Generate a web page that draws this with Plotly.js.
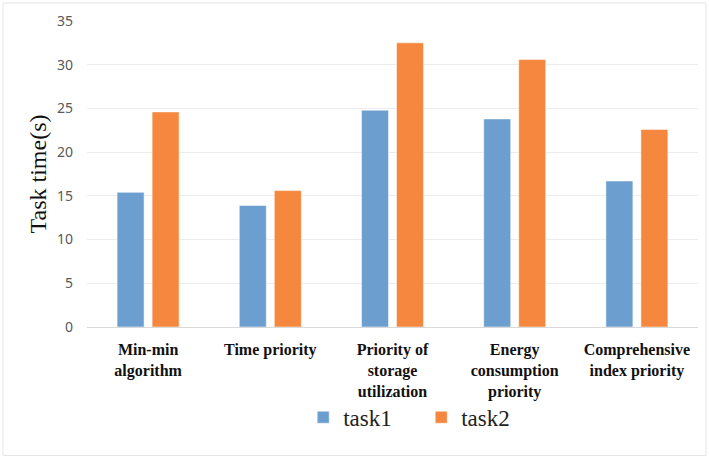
<!DOCTYPE html>
<html>
<head>
<meta charset="utf-8">
<script src="https://cdn.plot.ly/plotly-3.0.1.min.js"></script>
<style>
  html, body { margin: 0; padding: 0; background: #ffffff; }
  #chart { width: 709px; height: 457px; }
</style>
</head>
<body>
<div id="chart"></div>
<script>
// Scheduling strategies compared on the x axis
const categories = [
  'Min-min<br>algorithm',
  'Time priority',
  'Priority of<br>storage<br>utilization',
  'Energy<br>consumption<br>priority',
  'Comprehensive<br>index priority'
];

// Task completion time in seconds for each strategy
const task1 = [15.4, 13.9, 24.8, 23.8, 16.7];
const task2 = [24.6, 15.6, 32.5, 30.6, 22.6];

const seriesNames = ['task1', 'task2'];
const yTicks = [0, 5, 10, 15, 20, 25, 30, 35];

const SERIF = 'Liberation Serif';

const traces = [
  {
    type: 'bar',
    name: seriesNames[0],
    x: categories,
    y: task1,
    marker: { color: '#6c9fd0', line: { color: '#ffffff', width: 0.5 } },
    hoverinfo: 'y+name'
  },
  {
    type: 'bar',
    name: seriesNames[1],
    x: categories,
    y: task2,
    marker: { color: '#f5873e', line: { color: '#ffffff', width: 0.5 } },
    hoverinfo: 'y+name'
  }
];

const layout = {
  width: 709,
  height: 457,
  margin: { l: 87, r: 11, t: 21, b: 130 },
  font: { family: SERIF, color: '#111111' },
  paper_bgcolor: '#ffffff',
  plot_bgcolor: '#ffffff',
  barmode: 'group',
  bargap: 0.427,
  bargroupgap: 0.229,
  showlegend: true,
  legend: {
    orientation: 'h',
    x: 0.547,
    xanchor: 'center',
    y: -0.295,
    yanchor: 'middle',
    bgcolor: 'rgba(0,0,0,0)',
    font: { family: SERIF, size: 23, color: '#222222' },
    entrywidth: 73,
    entrywidthmode: 'pixels',
    tracegroupgap: 0
  },
  xaxis: {
    type: 'category',
    showgrid: false,
    showline: true,
    linecolor: '#d9d9d9',
    linewidth: 1,
    ticks: '',
    tickfont: { family: SERIF, size: 16, color: '#111111', weight: 700 },
    ticklabelstandoff: 8,
    fixedrange: true
  },
  yaxis: {
    range: [0, 35],
    tickvals: yTicks,
    ticktext: yTicks.map(String),
    showgrid: true,
    gridcolor: '#ececec',
    gridwidth: 1,
    zeroline: false,
    showline: false,
    ticks: '',
    ticklabelstandoff: 13,
    tickfont: { family: 'Noto Sans', size: 14, color: '#595959' },
    title: {
      text: 'Task time(s)',
      font: { family: SERIF, size: 24, color: '#111111' },
      standoff: 3
    },
    fixedrange: true
  },
  shapes: [
    {
      type: 'rect',
      xref: 'paper', yref: 'paper',
      x0: -0.1375, x1: 1.013,
      y0: -0.42, y1: 1.059,
      line: { color: '#e6e6e6', width: 1 },
      fillcolor: 'rgba(0,0,0,0)',
      layer: 'below'
    }
  ]
};

Plotly.newPlot('chart', traces, layout, { displayModeBar: false, staticPlot: true });
</script>
</body>
</html>
